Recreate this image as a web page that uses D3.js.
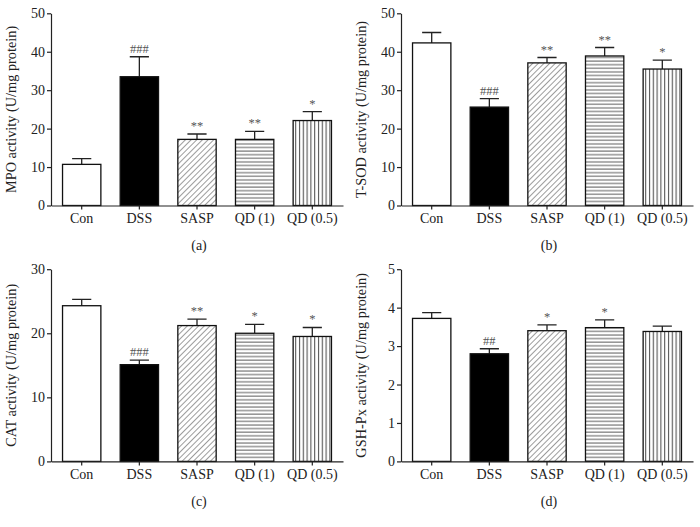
<!DOCTYPE html>
<html>
<head>
<meta charset="utf-8">
<script src="https://cdn.jsdelivr.net/npm/d3@7"></script>
<style>
  body { margin: 0; background: #fff; }
  svg text { font-family: "Liberation Serif", "Times New Roman", serif; fill: #222; }
  .axis path, .axis line { stroke: #222; stroke-width: 1.2; }
  .mark { fill: #555; font-size: 12.5px; }
</style>
</head>
<body>
<div id="chart"></div>
<script>
// group names shared by all panels
var groups = ["Con", "DSS", "SASP", "QD (1)", "QD (0.5)"];

// (a) MPO
var mpoMean = [10.7, 33.5, 17.2, 17.2, 22.1];
var mpoSem = [1.5, 5.2, 1.4, 2.1, 2.3];
var mpoMarks = ["", "###", "**", "**", "*"];

// (b) T-SOD
var sodMean = [42.3, 25.6, 37.1, 38.9, 35.5];
var sodSem = [2.7, 2.2, 1.4, 2.2, 2.3];
var sodMarks = ["", "###", "**", "**", "*"];

// (c) CAT
var catMean = [24.3, 15.1, 21.2, 20.0, 19.5];
var catSem = [1.0, 0.7, 1.0, 1.4, 1.4];
var catMarks = ["", "###", "**", "*", "*"];

// (d) GSH-Px
var gshMean = [3.72, 2.80, 3.40, 3.48, 3.38];
var gshSem = [0.15, 0.13, 0.15, 0.20, 0.14];
var gshMarks = ["", "##", "*", "*", ""];

var yTicksA = [0, 10, 20, 30, 40, 50];
var yTicksC = [0, 10, 20, 30];
var yTicksD = [0, 1, 2, 3, 4, 5];

var fills = ["#fff", "#000", "url(#diag)", "url(#horiz)", "url(#vert)"];

var width = 700, height = 527;
var svg = d3.select("#chart").append("svg")
  .attr("width", width)
  .attr("height", height);

// hatch patterns
var defs = svg.append("defs");
defs.append("pattern")
  .attr("id", "diag")
  .attr("patternUnits", "userSpaceOnUse")
  .attr("width", 4).attr("height", 4)
  .attr("patternTransform", "rotate(45)")
  .call(p => p.append("rect").attr("width", 4).attr("height", 4).attr("fill", "#fff"))
  .append("line")
  .attr("x1", 0).attr("y1", 0).attr("x2", 0).attr("y2", 4)
  .attr("stroke", "#666").attr("stroke-width", 1.3);
defs.append("pattern")
  .attr("id", "horiz")
  .attr("patternUnits", "userSpaceOnUse")
  .attr("width", 4).attr("height", 3.6)
  .call(p => p.append("rect").attr("width", 4).attr("height", 3.6).attr("fill", "#fff"))
  .append("line")
  .attr("x1", 0).attr("y1", 1).attr("x2", 4).attr("y2", 1)
  .attr("stroke", "#777").attr("stroke-width", 1.2);
defs.append("pattern")
  .attr("id", "vert")
  .attr("patternUnits", "userSpaceOnUse")
  .attr("width", 3.8).attr("height", 4)
  .call(p => p.append("rect").attr("width", 3.8).attr("height", 4).attr("fill", "#fff"))
  .append("line")
  .attr("x1", 1.5).attr("y1", 0).attr("x2", 1.5).attr("y2", 4)
  .attr("stroke", "#555").attr("stroke-width", 1.1);

var panels = [
  { x: 51, y: 13.3, mean: mpoMean, sem: mpoSem, marks: mpoMarks, max: 50, ticks: yTicksA, title: "MPO activity (U/mg protein)", tag: "(a)" },
  { x: 401, y: 13.3, mean: sodMean, sem: sodSem, marks: sodMarks, max: 50, ticks: yTicksA, title: "T-SOD activity (U/mg protein)", tag: "(b)" },
  { x: 51, y: 269.2, mean: catMean, sem: catSem, marks: catMarks, max: 30, ticks: yTicksC, title: "CAT activity (U/mg protein)", tag: "(c)" },
  { x: 401, y: 269.2, mean: gshMean, sem: gshSem, marks: gshMarks, max: 5, ticks: yTicksD, title: "GSH-Px activity (U/mg protein)", tag: "(d)" }
];

var innerW = 292, innerH = 192.2;

panels.forEach(function (p) {
  var g = svg.append("g").attr("transform", "translate(" + p.x + "," + p.y + ")");

  var x = d3.scaleBand().domain(groups).range([0, innerW])
    .paddingInner(0.335).paddingOuter(0.2);
  var y = d3.scaleLinear().domain([0, p.max]).range([innerH, 0]);

  var data = groups.map((gname, i) => ({ name: gname, mean: p.mean[i], sem: p.sem[i], mark: p.marks[i], fill: fills[i] }));

  // error bars (upper only)
  var cap = x.bandwidth() * 0.25;
  g.selectAll(".err").data(data).enter().append("path")
    .attr("class", "err")
    .attr("fill", "none").attr("stroke", "#222").attr("stroke-width", 1.3)
    .attr("d", d => {
      var cx = x(d.name) + x.bandwidth() / 2;
      return "M" + cx + "," + y(d.mean) + "V" + y(d.mean + d.sem) +
        "M" + (cx - cap) + "," + y(d.mean + d.sem) + "H" + (cx + cap);
    });

  g.selectAll(".bar").data(data).enter().append("rect")
    .attr("class", "bar")
    .attr("x", d => x(d.name))
    .attr("y", d => y(d.mean))
    .attr("width", x.bandwidth())
    .attr("height", d => innerH - y(d.mean))
    .attr("fill", d => d.fill)
    .attr("stroke", "#111").attr("stroke-width", 1.3);

  g.selectAll(".mark").data(data).enter().append("text")
    .attr("class", "mark")
    .attr("x", d => x(d.name) + x.bandwidth() / 2)
    .attr("y", d => y(d.mean + d.sem) - 4)
    .attr("text-anchor", "middle")
    .text(d => d.mark);

  var yAxis = g.append("g").attr("class", "axis")
    .call(d3.axisLeft(y).tickValues(p.ticks).tickFormat(d3.format("~g")).tickSize(4).tickSizeOuter(0));
  yAxis.selectAll("text").style("font-size", "14px").attr("x", -6);

  var xAxis = g.append("g").attr("class", "axis")
    .attr("transform", "translate(0," + innerH + ")")
    .call(d3.axisBottom(x).tickSize(4).tickSizeOuter(0));
  xAxis.selectAll("text").style("font-size", "14px").attr("y", 8);

  g.append("text")
    .attr("transform", "translate(-35," + innerH / 2 + ") rotate(-90)")
    .attr("text-anchor", "middle")
    .style("font-size", "14.3px")
    .text(p.title);

  g.append("text")
    .attr("x", innerW / 2 + 2)
    .attr("y", innerH + 45)
    .attr("text-anchor", "middle")
    .style("font-size", "14px")
    .text(p.tag);
});
</script>
</body>
</html>
